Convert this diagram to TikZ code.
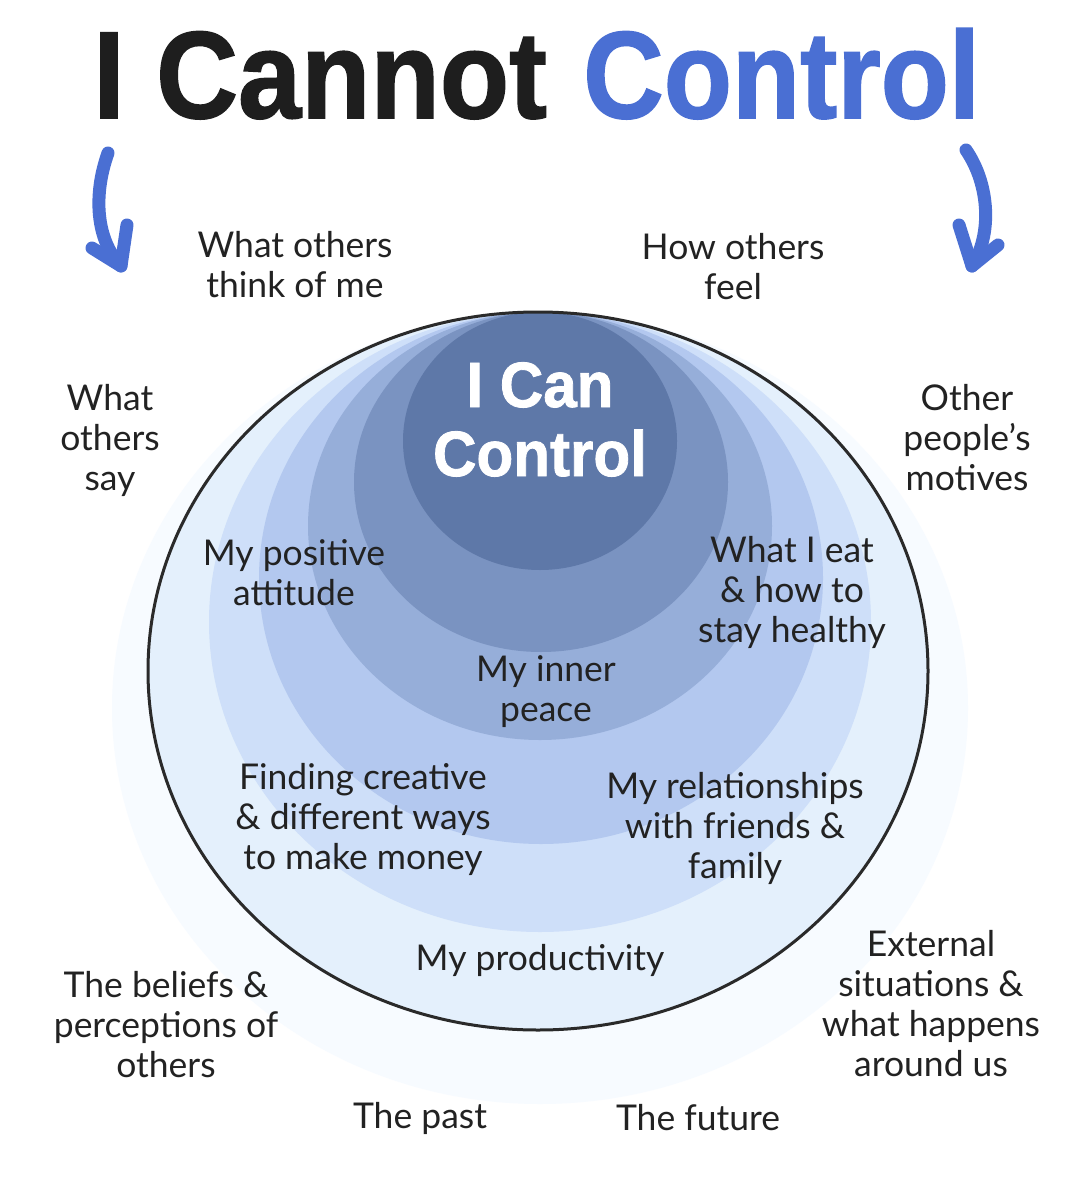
\documentclass[tikz,border=0pt]{standalone}
\usepackage{fontspec}
\setmainfont{Lato}
\newfontfamily\titlefont{Liberation Sans}[BoldFeatures={FakeBold=1.3}]
\definecolor{titleblack}{HTML}{1E1E1E}
\definecolor{titleblue}{HTML}{4A6FD3}
\definecolor{txt}{HTML}{222222}
\definecolor{ringA}{HTML}{5E78A8}
\definecolor{ringB}{HTML}{7A93C1}
\definecolor{ringC}{HTML}{96AED9}
\definecolor{ringD}{HTML}{B3C8EF}
\definecolor{ringE}{HTML}{CEDFF9}
\definecolor{ringF}{HTML}{E4F0FC}
\definecolor{ringG}{HTML}{F7FBFF}
\definecolor{outline}{HTML}{2A2A2A}
\begin{document}
\begin{tikzpicture}[x=1pt,y=-1pt,
  lab/.style={align=center, font=\fontsize{35.5}{40}\selectfont, text=txt, inner sep=0pt},
  bigtitle/.style={anchor=base west, inner sep=0pt, font=\titlefont\bfseries\fontsize{124}{124}\selectfont},
  innertitle/.style={anchor=base, inner sep=0pt, text=white, font=\titlefont\bfseries\fontsize{64}{64}\selectfont},
  arrowstroke/.style={draw=titleblue, line width=13pt, line cap=round, line join=round}]
\fill[white] (0,0) rectangle (1079,1182);
\useasboundingbox (0,0) rectangle (1079,1182);

% nested ellipses, all touching at the top
\fill[ringG] (540,708) ellipse [x radius=428, y radius=396];
\fill[ringF] (538,671) ellipse [x radius=390, y radius=359];
\fill[ringE] (540,622) ellipse [x radius=331, y radius=310];
\fill[ringD] (541,578) ellipse [x radius=282, y radius=266];
\fill[ringC] (540,526) ellipse [x radius=232, y radius=214];
\fill[ringB] (541,482) ellipse [x radius=187, y radius=170];
\fill[ringA] (540,441) ellipse [x radius=137, y radius=129];
\draw[outline, line width=3pt] (538,671) ellipse [x radius=390, y radius=359];

% title
\node[bigtitle, text=titleblack] (t1) at (93,118) {\scalebox{0.915}[1]{I Cannot}};
\node[bigtitle, text=titleblue] (t2) at (583,118) {\scalebox{0.9}[1]{Control}};

% arrows
\coordinate (la0) at (108,153);
\coordinate (la1) at (121,266);
\draw[arrowstroke] (la0) .. controls (93,195) and (96,240) .. (la1);
\draw[arrowstroke] (92,248) -- (la1) -- (127,225);
\coordinate (ra0) at (966,150);
\coordinate (ra1) at (972,266);
\draw[arrowstroke] (ra0) .. controls (990,185) and (992,235) .. (ra1);
\draw[arrowstroke] (959,225) -- (ra1) -- (998,245);

% inner title
\node[innertitle] (c1) at (540,407) {\scalebox{0.94}[1]{I Can}};
\node[innertitle] (c2) at (540,476) {\scalebox{0.94}[1]{Control}};

% labels
\node[lab] (n1) at (295,265) {What others\\think of me};
\node[lab] (n2) at (733,267) {How others\\feel};
\node[lab] (n3) at (110,440) {What\\others\\say};
\node[lab] (n4) at (967,438) {Other\\people’s\\motives};
\node[lab] (n5) at (294,573) {My positive\\attitude};
\node[lab] (n6) at (792,592) {What I eat\\\& how to\\stay healthy};
\node[lab] (n7) at (546,692) {My inner\\peace};
\node[lab] (n8) at (363,819) {Finding creative\\\& different ways\\to make money};
\node[lab] (n9) at (735,828) {My relationships\\with friends \&\\family};
\node[lab] (n10) at (540,960) {My productivity};
\node[lab] (n11) at (166,1025) {The beliefs \&\\perceptions of\\others};
\node[lab] (n12) at (931,1004) {External\\situations \&\\what happens\\around us};
\node[lab] (n13) at (420,1118) {The past};
\node[lab] (n14) at (698,1118) {The future};
\end{tikzpicture}
\end{document}
